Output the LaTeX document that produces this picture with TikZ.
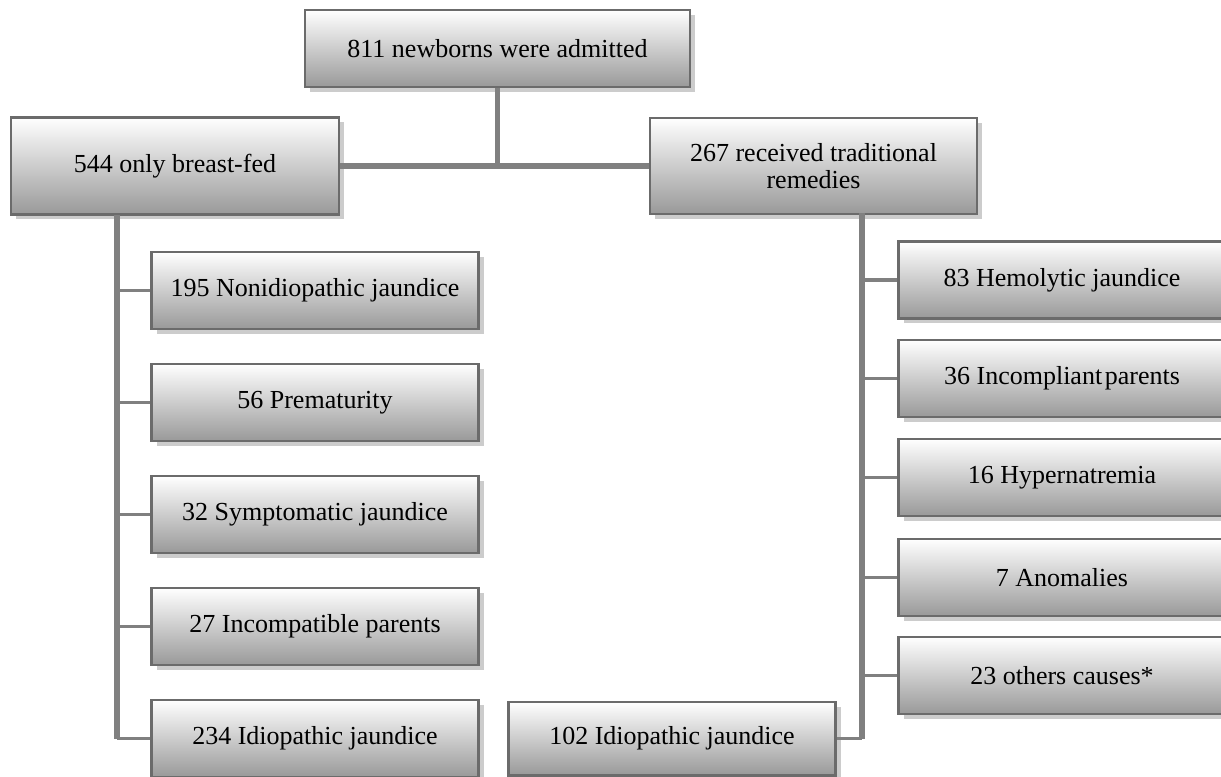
\documentclass[tikz,border=0pt]{standalone}
\usepackage{fontspec}
\setmainfont{Liberation Serif}
\usetikzlibrary{shadows}

\tikzset{
	box/.style={draw=black!58, line width=2pt, top color=white, bottom color=black!40,
		font=\fontsize{19.5}{20}\selectfont, align=center, inner sep=0pt,
		minimum width=245.25pt, minimum height=57.75pt,
		drop shadow={fill=black!20, opacity=1, shadow xshift=3.75pt, shadow yshift=-3.75pt}},
	trunk/.style={draw=black!50, line width=3.8pt},
	twig/.style={draw=black!50, line width=2.6pt},
}

\begin{document}
\begin{tikzpicture}[x=0.75pt, y=-0.75pt]
			%%%%% START %%%%%
			\useasboundingbox (0, 0) rectangle (1221, 777);
			
			\node[box, minimum width=288.75pt] (top) at (497.5, 48.5) {811 newborns were admitted};
			\node[box, minimum width=246pt, minimum height=72.75pt] (breast) at (175, 166) {544 only breast-fed};
			\node[box, minimum height=72pt] (remedy) at (813.5, 166) {267 received traditional\\remedies};
			
			% left column
			\node[box] (lc1) at (315, 290.5) {195 Nonidiopathic jaundice};
			\node[box] (lc2) at (315, 402.5) {56 Prematurity};
			\node[box] (lc3) at (315, 514.5) {32 Symptomatic jaundice};
			\node[box] (lc4) at (315, 626.5) {27 Incompatible parents};
			\node[box] (lc5) at (315, 738.5) {234 Idiopathic jaundice};
			
			% right column
			\node[box] (rc1) at (1062, 280) {83 Hemolytic jaundice};
			\node[box] (rc2) at (1062, 378.5) {36 Incompliant\hspace{0.1em}parents};
			\node[box] (rc3) at (1062, 477.5) {16 Hypernatremia};
			\node[box] (rc4) at (1062, 577.5) {7 Anomalies};
			\node[box] (rc5) at (1062, 675.5) {23 others causes*};
			\node[box, minimum height=55pt] (idio) at (672, 738.5) {102 Idiopathic jaundice};
			
			\coordinate (lspine) at (117, 215);
			\coordinate (rspine) at (862, 213);
			
			\draw[trunk] (breast.east) -- (remedy.west);
			\draw[trunk] (top.south) -- (top.south |- breast.east);
			
			\draw[trunk] (lspine) -- (lspine |- lc5.west);
			\foreach \i in {1,...,5}
				\draw[twig] (lspine |- lc\i.west) -- (lc\i.west);
			
			\draw[trunk] (rspine) -- (rspine |- idio.east);
			\foreach \i in {1,...,5}
				\draw[twig] (rspine |- rc\i.west) -- (rc\i.west);
			\draw[twig] (idio.east) -- (rspine |- idio.east);
			
			%%%%% END %%%%%
\end{tikzpicture}
\end{document}
